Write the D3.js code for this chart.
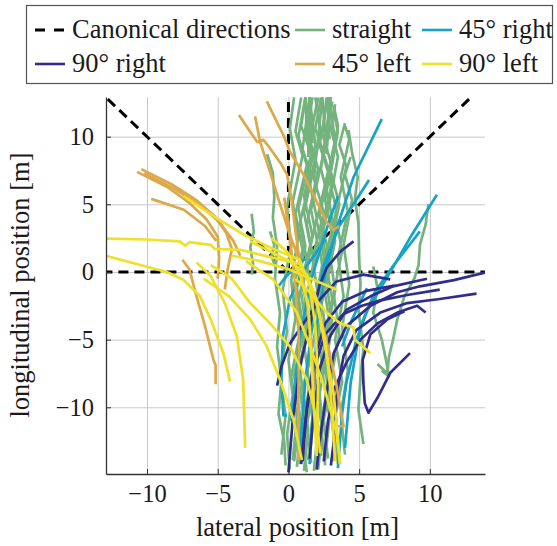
<!DOCTYPE html>
<html>
<head>
<meta charset="utf-8">
<script src="https://cdn.jsdelivr.net/npm/d3@7"></script>
<style>
  body { margin: 0; background: #fff; }
  text { font-family: "Liberation Serif", "DejaVu Serif", serif; fill: #1a1a1a; }
</style>
</head>
<body>
<script>
'use strict'
/* global d3 */

// Canonical directions (degrees, 0 = right, 90 = straight ahead)
const canonicalAngles = [0, 45, 90, 135, 180]

// Trajectories, [lateral, longitudinal] in metres
const straightTracks = [
  [[0.1,-14.6],[-0.1,-12.0],[0.3,-9.1],[0.0,-6.5],[0.5,-3.4],[0.2,-0.6],[0.7,2.6],[0.3,5.2],[1.0,8.6],[0.5,10.4],[0.9,12.9]],
  [[0.6,-14.4],[0.9,-11.2],[0.5,-8.6],[1.1,-5.4],[0.7,-2.2],[1.3,0.9],[0.8,3.6],[1.6,7.1],[1.0,9.1],[1.5,12.9],[1.7,9.5]],
  [[1.1,-14.7],[1.4,-11.6],[1.0,-8.8],[1.6,-5.6],[1.2,-2.4],[1.8,0.8],[1.3,3.5],[2.1,7.6],[1.5,9.8],[2.1,12.9]],
  [[1.6,-14.1],[1.3,-11.3],[1.9,-8.0],[1.5,-4.9],[2.1,-1.8],[1.7,1.0],[2.5,4.4],[1.8,6.9],[2.4,12.9],[2.7,8.8],[2.9,11.6]],
  [[2.1,-14.6],[2.4,-11.7],[2.0,-8.9],[2.6,-5.7],[2.2,-2.6],[2.8,0.4],[2.3,3.1],[3.1,6.6],[2.5,8.7],[3.1,12.6]],
  [[2.6,-14.3],[2.3,-11.4],[2.8,-8.2],[2.5,-5.2],[3.1,-2.0],[2.6,1.0],[3.4,4.6],[2.8,7.2],[3.5,10.8],[3.2,12.3]],
  [[3.1,-14.0],[3.4,-11.0],[3.0,-7.9],[3.6,-4.6],[3.2,-1.6],[3.8,1.6],[3.3,4.2],[4.1,7.8],[3.6,9.4],[4.0,11.0]],
  [[0.3,-13.9],[0.6,-10.8],[0.2,-7.7],[0.8,-4.6],[0.3,-1.4],[1.0,1.6],[0.5,4.3],[1.3,7.9],[0.7,10.0],[1.2,12.9],[1.3,10.3]],
  [[1.3,-14.8],[0.9,-11.7],[1.5,-8.5],[1.1,-5.3],[1.7,-2.2],[1.3,0.7],[2.0,4.0],[1.5,6.6],[2.3,10.3],[1.9,12.9]],
  [[2.3,-13.6],[1.9,-10.6],[2.5,-7.4],[2.0,-4.3],[2.6,-1.0],[2.2,1.8],[2.9,5.2],[2.3,7.6],[3.0,12.9],[2.6,9.0]],
  [[-1.5,8.7],[-1.1,7.3],[-1.0,5.5],[-1.1,4.0],[-0.8,1.9],[-0.95,-0.5],[-0.6,-3.0],[-0.8,-5.5],[-0.5,-8.0],[-0.7,-10.5],[-0.3,-12.5],[-0.2,-14.3]],
  [[-2.6,4.3],[-2.45,3.0],[-2.7,1.8],[-2.5,0.6],[-2.6,-0.2]],
  [[-1.3,3.0],[-1.0,2.0],[-1.2,1.2],[-0.9,0.3]],
  [[-0.5,-13.5],[-0.2,-10.6],[-0.6,-7.5],[-0.1,-4.4],[-0.4,-1.3],[0.2,1.9],[-0.1,4.8],[0.5,8.3],[0.1,10.6],[0.4,12.9]],
  [[3.5,-14.2],[3.2,-11.3],[3.8,-8.1],[3.3,-5.0],[3.9,-1.8],[3.5,1.1],[4.2,4.5],[3.7,7.0],[4.3,9.8],[4.0,10.8]],
  [[5.3,-12.7],[4.95,-10.2],[5.1,-7.7],[5.3,-5.7],[4.95,-2.8],[5.1,-1.0],[5.0,1.0],[4.95,3.6],[4.7,5.4],[4.9,7.0],[4.5,8.8],[4.25,10.5]],
  [[6.3,-6.8],[7.0,-7.5],[7.1,-6.3],[7.4,-5.0],[7.7,-3.5],[8.2,-1.8],[8.9,-0.5],[9.2,0.5],[9.3,2.0],[9.7,3.5],[9.9,5.0]],
  [[6.0,0.4],[6.3,-1.2],[6.0,-3.0],[6.6,-5.0],[6.9,-6.5],[7.1,-7.7],[6.6,-7.3]],
  [[0.8,-14.2],[1.1,-11.0],[0.7,-7.8],[1.3,-4.6],[0.9,-1.5],[1.6,1.7],[1.1,4.4],[1.9,8.2],[1.3,10.1],[1.7,12.9]],
  [[1.8,-14.7],[2.1,-11.6],[1.7,-8.4],[2.3,-5.2],[1.9,-2.1],[2.5,1.1],[2.0,3.8],[2.8,7.4],[2.2,9.4],[2.8,12.9],[2.9,9.8]],
  [[2.8,-13.8],[2.5,-10.9],[3.1,-7.7],[2.7,-4.6],[3.3,-1.4],[2.9,1.5],[3.6,5.0],[3.0,7.4],[3.5,10.4],[3.2,11.8]],
  [[3.3,-13.2],[3.0,-10.2],[2.6,-7.1],[3.1,-3.9],[2.7,-0.8],[3.3,2.3],[2.9,5.1],[3.5,8.5],[3.0,10.6],[3.3,12.4]],
  [[4.0,-13.5],[3.7,-10.5],[4.2,-7.3],[3.8,-4.1],[4.3,-0.9],[3.9,2.0],[4.5,5.3],[4.0,7.2],[4.4,8.5]],
  [[0.4,-14.0],[0.8,-10.9],[0.4,-7.6],[1.1,-4.4],[0.6,-1.2],[1.2,1.9],[0.7,4.7],[1.6,8.7],[0.9,10.8],[1.2,12.9],[1.4,11.0]],
  [[2.0,-14.2],[2.4,-11.1],[2.1,-7.9],[2.7,-4.6],[2.2,-1.4],[2.8,1.6],[2.2,4.2],[3.0,8.1],[2.4,10.2],[2.7,12.9]],
  [[1.4,-13.9],[1.7,-10.8],[1.3,-7.6],[1.9,-4.4],[1.4,-1.3],[2.1,1.9],[1.6,4.6],[2.5,8.8],[1.9,10.6],[2.3,12.9]],
  [[0.9,-13.6],[1.2,-10.3],[0.8,-7.1],[1.4,-3.8],[1.0,-0.5],[1.7,2.7],[1.1,5.6],[1.9,9.4],[1.5,12.9],[1.4,8.5]],
  [[2.6,-13.9],[2.9,-10.7],[2.4,-7.5],[3.0,-4.2],[2.5,-1.1],[3.2,2.2],[2.6,5.3],[3.3,9.6],[2.9,12.9]]
]

const right45Tracks = [
  [[1.5,-14.2],[1.8,-9.0],[2.0,-4.0],[2.6,0.0],[3.5,3.5],[4.6,7.0],[6.6,11.3]],
  [[0.8,-13.5],[1.2,-8.0],[1.8,-3.0],[2.5,0.5],[3.6,3.4],[5.7,6.8]],
  [[0.2,-11.0],[0.8,-5.0],[1.5,-1.0],[2.2,1.5],[2.9,3.8],[3.5,5.6]],
  [[-0.1,-10.6],[-0.35,-10.6],[-0.5,-8.0],[-0.4,-4.8],[0.1,-2.0],[1.0,0.0],[2.6,2.4]],
  [[3.5,-14.5],[3.8,-10.4],[4.1,-8.2],[4.8,-5.0],[5.6,-2.8],[7.2,0.0],[8.7,2.7],[10.5,5.7]],
  [[4.0,-13.0],[4.4,-8.2],[5.1,-4.0],[6.1,-1.5],[7.3,0.3],[9.3,3.0]],
  [[3.8,-5.5],[4.5,-3.5],[5.55,-1.2]],
  [[-0.8,-1.2],[-0.3,-0.5],[0.3,0.2],[1.2,1.0]]
]

const right90Tracks = [
  [[2.0,-14.6],[2.2,-12.6],[2.7,-8.9],[3.2,-6.0],[4.1,-4.0],[5.8,-2.5],[7.7,-1.5],[9.3,-1.06],[11.7,-0.6],[13.9,-0.05]],
  [[3.0,-14.3],[3.2,-12.6],[3.4,-9.2],[3.9,-6.2],[4.8,-4.3],[6.5,-3.0],[8.4,-2.3],[10.7,-2.0],[13.3,-1.6]],
  [[1.5,-13.8],[1.75,-10.9],[2.2,-7.2],[2.95,-4.75],[4.1,-2.8],[5.8,-1.8],[7.4,-1.06],[9.8,-0.5]],
  [[0.9,-14.2],[1.2,-11.0],[1.7,-7.5],[2.6,-4.6],[3.9,-3.1],[5.2,-2.5],[6.5,-2.1],[8.4,-1.7],[10.7,-1.3]],
  [[2.5,-14.0],[2.8,-11.0],[3.3,-8.5],[4.1,-6.7],[5.1,-5.0],[6.3,-3.8],[7.7,-3.0],[9.1,-2.5],[9.7,-3.0]],
  [[8.6,-6.0],[7.2,-7.45],[6.3,-9.3],[5.66,-10.4],[5.4,-9.7],[5.3,-8.2],[5.25,-6.5],[5.8,-4.6],[7.0,-3.5],[8.2,-2.9]],
  [[-0.8,-8.4],[-0.5,-7.0],[0.1,-5.3],[1.06,-3.8],[2.24,-2.0],[3.4,-0.7],[5.3,-0.2],[7.2,-0.55]],
  [[0.0,-14.8],[0.3,-11.0],[0.8,-7.0],[1.5,-4.0],[2.2,-1.0],[2.7,0.3],[3.66,1.5],[4.6,2.26]],
  [[1.0,-14.0],[1.3,-10.0],[1.8,-6.5],[2.6,-3.8],[3.8,-2.2],[5.5,-1.4],[7.5,-1.0]]
]

const left45Tracks = [
  [[-10.7,7.4],[-8.6,6.3],[-7.0,5.1],[-5.8,3.9],[-5.0,2.6],[-4.9,1.0],[-5.0,-0.5]],
  [[-10.4,7.6],[-8.3,6.5],[-6.5,5.3],[-5.2,4.1],[-4.4,2.9],[-4.0,1.7],[-4.3,0.2],[-4.5,-1.3]],
  [[-10.2,7.3],[-8.0,6.1],[-6.2,4.9],[-4.9,3.7],[-3.9,2.3],[-3.4,1.2]],
  [[-9.7,5.4],[-7.4,4.6],[-5.9,3.4],[-5.1,2.3]],
  [[-7.5,0.9],[-7.0,0.2],[-6.5,-1.8],[-5.9,-4.0],[-5.3,-6.5],[-5.15,-6.9],[-5.15,-8.3]],
  [[-3.5,11.6],[-2.6,10.2],[-2.2,9.6],[-1.77,9.76],[-1.3,9.15],[-0.47,7.9],[-0.1,7.2],[0.2,5.5],[0.5,3.0],[0.9,0.0],[1.3,-2.0],[1.6,-5.0],[1.77,-7.5],[1.77,-9.9]],
  [[-2.36,11.5],[-2.0,9.6],[-1.3,7.4],[-0.59,5.0],[0.1,2.75],[0.8,0.8],[1.4,-0.7],[2.2,-3.0],[2.9,-6.0],[3.4,-8.4],[3.9,-11.4],[3.5,-11.4]],
  [[-1.53,12.6],[-0.35,10.1],[0.1,8.9],[1.06,7.2],[2.0,5.2],[2.7,3.7],[3.2,3.1],[3.6,3.4]],
  [[0.7,-13.9],[0.7,-9.5],[0.75,-5.0],[0.5,-1.0],[0.1,2.5],[-0.3,5.5]]
]

const left90Tracks = [
  [[-12.9,2.46],[-10.0,2.4],[-7.7,2.26],[-7.3,1.95],[-7.0,2.2],[-5.5,2.0],[-5.2,1.7],[-3.4,1.64],[-1.5,1.15],[0.8,0.6],[1.8,-1.5],[2.6,-5.0],[3.0,-9.0],[3.3,-14.0]],
  [[-12.9,1.2],[-11.0,0.66],[-8.6,0.0],[-7.4,-0.6],[-6.25,-1.8],[-5.5,-3.5],[-4.6,-6.0],[-4.13,-8.1]],
  [[-6.5,0.7],[-5.5,-0.3],[-4.5,-2.3],[-3.65,-4.75],[-3.2,-7.95],[-3.06,-13.0]],
  [[-7.4,5.6],[-5.1,4.0],[-3.4,2.9],[-1.5,1.9],[0.8,0.9],[1.5,-1.0],[1.9,-4.0],[2.1,-8.0],[2.0,-13.4]],
  [[-2.7,2.26],[-1.3,1.52],[0.1,0.78],[1.3,-0.2],[2.0,-2.0],[2.5,-5.0],[3.2,-9.0],[3.66,-14.2]],
  [[-1.2,2.5],[-0.1,1.5],[0.83,-0.2],[1.4,-2.5],[1.6,-6.0],[1.8,-10.0],[2.0,-13.6]],
  [[-5.5,0.5],[-4.0,-0.5],[-2.7,-2.3],[-1.3,-3.8],[0.1,-5.5],[1.3,-7.95],[2.0,-10.9],[2.24,-13.4]],
  [[-6.0,-0.5],[-4.2,-1.8],[-2.7,-3.5],[-1.53,-5.5],[-0.6,-7.95],[0.35,-10.9],[0.95,-13.9]],
  [[-3.0,0.8],[-1.06,-0.57],[0.6,-3.0],[1.54,-5.5],[2.5,-8.4],[3.4,-11.9],[3.66,-14.2]],
  [[0.5,-0.5],[1.5,-1.5],[2.7,-3.0],[3.66,-3.8],[4.6,-4.1],[4.7,-5.0],[5.8,-6.0]],
  [[-4.0,1.2],[-2.0,0.8],[0.1,0.17],[1.8,-0.6],[3.4,-1.3]]
]

const tickValues = [-10, -5, 0, 5, 10]
const xDomain = [-12.9, 13.9]
const yDomain = [-14.93, 12.93]

// series in drawing / legend order
const seriesNames = ['straight', '45° right', '90° right', '45° left', '90° left']
const seriesTracks = [straightTracks, right45Tracks, right90Tracks, left45Tracks, left90Tracks]
const seriesColors = ['#74b37d', '#17a2c8', '#302e8c', '#dba94a', '#efe02c']

// Our canvas
const width = 557,
  height = 546,
  plotLeft = 106,
  plotRight = 485,
  plotTop = 97,
  plotBottom = 474

const x = d3.scaleLinear().domain(xDomain).range([plotLeft, plotRight])
const y = d3.scaleLinear().domain(yDomain).range([plotBottom, plotTop])

let svg = d3.select('body')
  .append('svg')
  .attr('width', width)
  .attr('height', height)

svg.append('clipPath').attr('id', 'plot')
  .append('rect')
  .attr('x', plotLeft).attr('y', plotTop)
  .attr('width', plotRight - plotLeft).attr('height', plotBottom - plotTop)

// grid
svg.append('g')
  .attr('transform', `translate(0,${plotBottom})`)
  .call(d3.axisBottom(x).tickValues(tickValues).tickSize(-(plotBottom - plotTop)).tickFormat(''))
  .call(g => g.select('.domain').remove())
  .selectAll('line').attr('stroke', '#c8c8c8').attr('stroke-width', 1)

svg.append('g')
  .attr('transform', `translate(${plotLeft},0)`)
  .call(d3.axisLeft(y).tickValues(tickValues).tickSize(-(plotRight - plotLeft)).tickFormat(''))
  .call(g => g.select('.domain').remove())
  .selectAll('line').attr('stroke', '#c8c8c8').attr('stroke-width', 1)

const plot = svg.append('g').attr('clip-path', 'url(#plot)')

// canonical directions, dashed
const rayLength = 40
plot.selectAll('.canon')
  .data(canonicalAngles)
  .enter()
  .append('line')
  .attr('x1', x(0)).attr('y1', y(0))
  .attr('x2', d => x(rayLength * Math.cos(d * Math.PI / 180)))
  .attr('y2', d => y(rayLength * Math.sin(d * Math.PI / 180)))
  .attr('stroke', '#000')
  .attr('stroke-width', 3)
  .attr('stroke-dasharray', '10 6')

const line = d3.line().x(d => x(d[0])).y(d => y(d[1]))

seriesTracks.forEach((tracks, i) => {
  plot.append('g')
    .selectAll('path')
    .data(tracks)
    .enter()
    .append('path')
    .attr('d', line)
    .attr('fill', 'none')
    .attr('stroke', seriesColors[i])
    .attr('stroke-width', 2.7)
    .attr('stroke-linejoin', 'round')
})

// axes
const fmt = d3.format('d')
let xAxis = svg.append('g')
  .attr('transform', `translate(0,${plotBottom})`)
  .call(d3.axisBottom(x).tickValues(tickValues).tickSize(-5).tickSizeOuter(0).tickPadding(11).tickFormat(fmt))
let yAxis = svg.append('g')
  .attr('transform', `translate(${plotLeft},0)`)
  .call(d3.axisLeft(y).tickValues(tickValues).tickSize(-5).tickSizeOuter(0).tickPadding(12).tickFormat(fmt))

;[xAxis, yAxis].forEach(g => {
  g.select('.domain').attr('stroke', '#333').attr('stroke-width', 1.3)
  g.selectAll('.tick line').attr('stroke', '#333').attr('stroke-width', 1)
  g.selectAll('.tick text')
    .attr('fill', '#1a1a1a')
    .style('font-family', '"Liberation Serif", serif')
    .style('font-size', '24.5px')
})

svg.append('text')
  .attr('x', (plotLeft + plotRight) / 2 + 2)
  .attr('y', 536)
  .attr('text-anchor', 'middle')
  .style('font-size', '26.5px')
  .text('lateral position [m]')

svg.append('text')
  .attr('transform', `translate(29,${285}) rotate(-90)`)
  .attr('text-anchor', 'middle')
  .style('font-size', '26.5px')
  .text('longitudinal position [m]')

// legend
const legend = svg.append('g')
legend.append('rect')
  .attr('x', 26.5).attr('y', 5.5)
  .attr('width', 526).attr('height', 78)
  .attr('fill', '#fff')
  .attr('stroke', '#555')
  .attr('stroke-width', 1.2)

const legendCols = [35, 295, 422]
const legendRows = [38, 72]
const legendEntries = [{ name: 'Canonical directions', color: '#000', dash: true }]
  .concat(seriesNames.map((n, i) => ({ name: n, color: seriesColors[i], dash: false })))

// canonical + straight + 45 right on first row, the rest below
const legendSlots = [[0, 0], [1, 0], [2, 0], [0, 1], [1, 1], [2, 1]]

legendEntries.forEach((e, i) => {
  const cx = legendCols[legendSlots[i][0]]
  const cy = legendRows[legendSlots[i][1]]
  legend.append('line')
    .attr('x1', cx).attr('x2', cx + 30)
    .attr('y1', cy - 8).attr('y2', cy - 8)
    .attr('stroke', e.color)
    .attr('stroke-width', e.dash ? 3 : 2.6)
    .attr('stroke-dasharray', e.dash ? '10 9' : null)
  legend.append('text')
    .attr('x', cx + 37)
    .attr('y', cy)
    .style('font-size', '26.5px')
    .text(e.name)
})
</script>
</body>
</html>
